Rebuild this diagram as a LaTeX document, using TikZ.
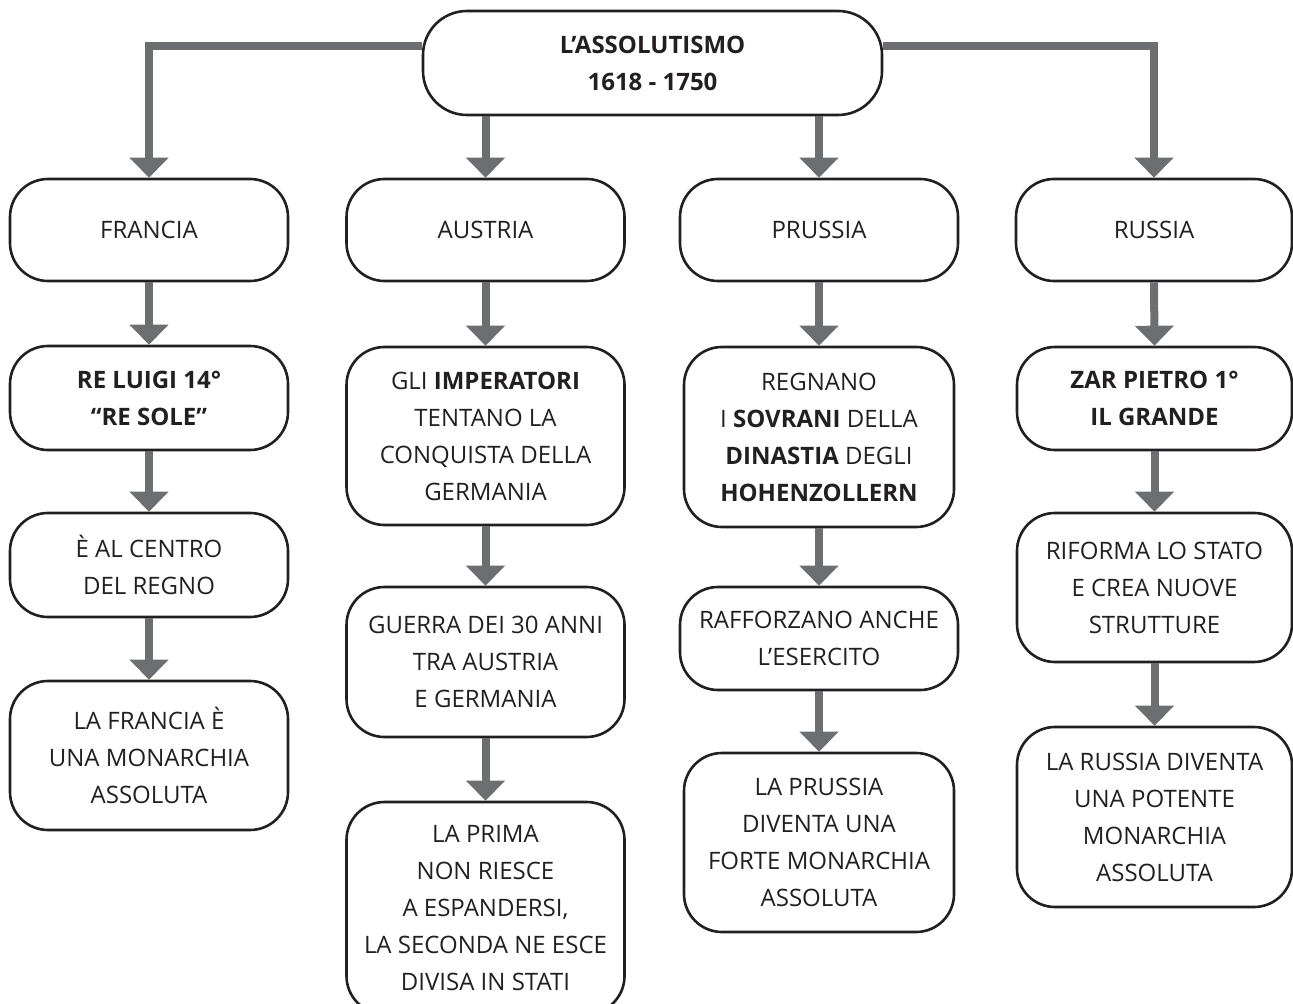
\documentclass[tikz,border=0pt]{standalone}
\usepackage{fontspec}
\setmainfont{Open Sans}
\usetikzlibrary{arrows.meta}
\definecolor{arrowgray}{HTML}{6D6E71}
\definecolor{ink}{HTML}{231F20}

\begin{document}
\begin{tikzpicture}[x=0.5pt, y=-0.5pt,
		box/.style={draw=ink, line width=1.3pt, rounded corners=19pt, align=center, text=ink, inner sep=2pt, minimum width=139pt, font=\fontsize{12pt}{18.5pt}\selectfont},
		arr/.style={draw=arrowgray, line width=4pt, -{Triangle[length=10pt, width=19pt]}}]
	\useasboundingbox (0,0) rectangle (1293,1004);
	\node[box, minimum width=229.5pt, minimum height=52pt, rounded corners=22pt, font=\fontsize{12pt}{18.5pt}\selectfont\bfseries] (top) at (652.5,63) {L’ASSOLUTISMO\\1618 - 1750};
	\node[box, minimum height=51pt] (fra) at (149,230) {FRANCIA};
	\node[box, minimum height=51pt] (aus) at (485.5,230) {AUSTRIA};
	\node[box, minimum height=51pt] (pru) at (819,230) {PRUSSIA};
	\node[box, minimum height=51pt, minimum width=138pt] (rus) at (1154,230) {RUSSIA};
	\node[box, minimum height=52pt] (fra2) at (149,398) {\textbf{RE LUIGI 14°}\\\textbf{“RE SOLE”}};
	\node[box, minimum height=52pt] (fra3) at (149,565) {È AL CENTRO\\DEL REGNO};
	\node[box, minimum height=74.5pt] (fra4) at (149,755.5) {LA FRANCIA È\\UNA MONARCHIA\\ASSOLUTA};
	\node[box, minimum height=89pt] (aus2) at (485.5,436) {GLI \textbf{IMPERATORI}\\TENTANO LA\\CONQUISTA DELLA\\GERMANIA};
	\node[box, minimum height=75pt] (aus3) at (485.5,662) {GUERRA DEI 30 ANNI\\TRA AUSTRIA\\E GERMANIA};
	\node[box, minimum height=106pt] (aus4) at (485.5,908) {LA PRIMA\\NON RIESCE\\A ESPANDERSI,\\LA SECONDA NE ESCE\\DIVISA IN STATI};
	\node[box, minimum height=90pt, minimum width=135pt] (pru2) at (819,437) {REGNANO\\I \textbf{SOVRANI} DELLA\\\textbf{DINASTIA} DEGLI\\\textbf{HOHENZOLLERN}};
	\node[box, minimum height=51.5pt] (pru3) at (819,638.5) {RAFFORZANO ANCHE\\L’ESERCITO};
	\node[box, minimum height=89.5pt, minimum width=135pt] (pru4) at (819,842.5) {LA PRUSSIA\\DIVENTA UNA\\FORTE MONARCHIA\\ASSOLUTA};
	\node[box, minimum height=51.5pt, minimum width=137.5pt] (rus2) at (1154.5,398.5) {\textbf{ZAR PIETRO 1°}\\\textbf{IL GRANDE}};
	\node[box, minimum height=74.5pt, minimum width=137.5pt] (rus3) at (1154.5,587.5) {RIFORMA LO STATO\\E CREA NUOVE\\STRUTTURE};
	\node[box, minimum height=90pt, minimum width=137.5pt] (rus4) at (1154.5,817) {LA RUSSIA DIVENTA\\UNA POTENTE\\MONARCHIA\\ASSOLUTA};
	\draw[arr] ([yshift=8.5pt]top.west) -| (fra.north);
	\draw[arr] ([yshift=8.5pt]top.east) -| (rus.north);
	\draw[arr] (top.south -| aus.north) -- (aus.north);
	\draw[arr] (top.south -| pru.north) -- (pru.north);
	\foreach \a/\b in {fra/fra2, fra2/fra3, fra3/fra4, aus/aus2, aus2/aus3, aus3/aus4, pru/pru2, pru2/pru3, pru3/pru4, rus/rus2, rus2/rus3, rus3/rus4}
		\draw[arr] (\a.south) -- (\b.north);
\end{tikzpicture}
\end{document}
